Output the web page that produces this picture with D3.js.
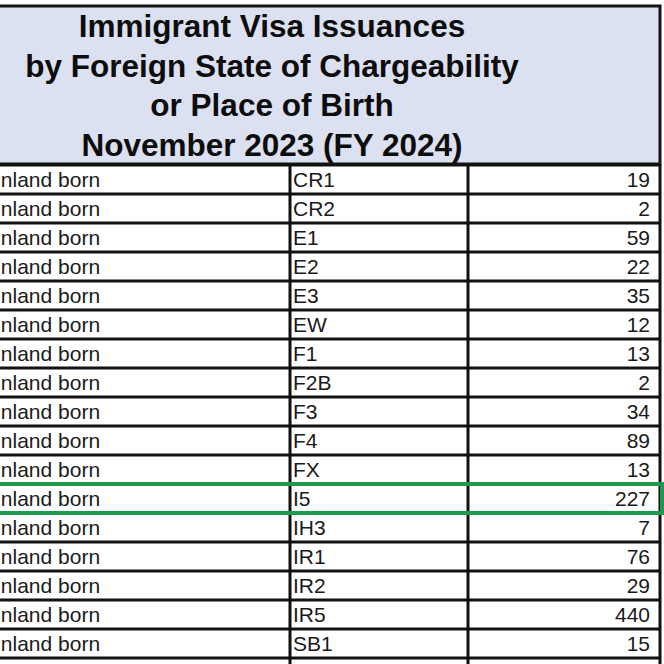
<!DOCTYPE html>
<html lang="en">
<head>
  <meta charset="UTF-8" />
  <title>Immigrant Visa Issuances - November 2023</title>
  <script src="https://d3js.org/d3.v7.min.js"></script>
  <style>
    body {
      margin: 0;
      background-color: #fff;
      font-family: 'Liberation Sans', Arial, sans-serif;
    }
    svg { display: block; }
  </style>
</head>
<body>
  <svg width="664" height="664"></svg>
  <script>
    const titleLines = [
      "Immigrant Visa Issuances",
      "by Foreign State of Chargeability",
      "or Place of Birth",
      "November 2023 (FY 2024)"
    ];
    const place = "Mainland born";
    const visaClasses = ["CR1", "CR2", "E1", "E2", "E3", "EW", "F1", "F2B", "F3", "F4", "FX", "I5", "IH3", "IR1", "IR2", "IR5", "SB1"];
    const issuances = [19, 2, 59, 22, 35, 12, 13, 2, 34, 89, 13, 227, 7, 76, 29, 440, 15];
    const highlighted = "I5";

    const rows = visaClasses.map((c, i) => ({ cls: c, n: issuances[i] }));

    const svg = d3.select("svg");
    const W = 664;
    const tableRight = 660, col1 = 290, col2 = 468;
    const headTop = 6, headBottom = 164;

    // header box
    svg.append("rect")
      .attr("x", -10).attr("y", headTop)
      .attr("width", tableRight + 10).attr("height", headBottom - headTop)
      .attr("fill", "#dbe1f1")
      .attr("stroke", "#151515")
      .attr("stroke-width", 3);

    svg.selectAll(".title")
      .data(titleLines)
      .enter()
      .append("text")
      .attr("class", "title")
      .attr("x", 272)
      .attr("y", (d, i) => 37 + i * 39.5)
      .attr("text-anchor", "middle")
      .attr("font-size", 31.5)
      .attr("font-weight", "bold")
      .attr("fill", "#0d0d0d")
      .text(d => d);

    // rows
    const y = d3.scaleBand()
      .domain(visaClasses)
      .range([165, 165 + 29 * visaClasses.length]);

    const g = svg.append("g");

    g.selectAll(".rowline")
      .data(visaClasses.concat(["_end"]))
      .enter()
      .append("line")
      .attr("x1", -10).attr("x2", tableRight)
      .attr("y1", d => d === "_end" ? y.range()[1] : y(d))
      .attr("y2", d => d === "_end" ? y.range()[1] : y(d))
      .attr("stroke", "#111")
      .attr("stroke-width", 3);

    [col1, col2, tableRight].forEach(x => {
      g.append("line")
        .attr("x1", x).attr("x2", x)
        .attr("y1", headBottom).attr("y2", W)
        .attr("stroke", "#111")
        .attr("stroke-width", 3);
    });

    const row = g.selectAll(".row")
      .data(rows)
      .enter()
      .append("g")
      .attr("class", "row")
      .attr("transform", d => `translate(0,${y(d.cls) + 22})`);

    row.append("text")
      .attr("x", -33)
      .attr("font-size", 21)
      .attr("fill", "#1a1a1a")
      .text(place);

    row.append("text")
      .attr("x", 293)
      .attr("font-size", 21)
      .attr("fill", "#1a1a1a")
      .text(d => d.cls);

    row.append("text")
      .attr("x", 650)
      .attr("text-anchor", "end")
      .attr("font-size", 21)
      .attr("fill", "#1a1a1a")
      .text(d => d.n);

    // highlight box
    svg.append("rect")
      .attr("x", -10)
      .attr("y", y(highlighted))
      .attr("width", tableRight + 12)
      .attr("height", y.bandwidth())
      .attr("fill", "none")
      .attr("stroke", "#1e9a4f")
      .attr("stroke-width", 4);
  </script>
</body>
</html>
